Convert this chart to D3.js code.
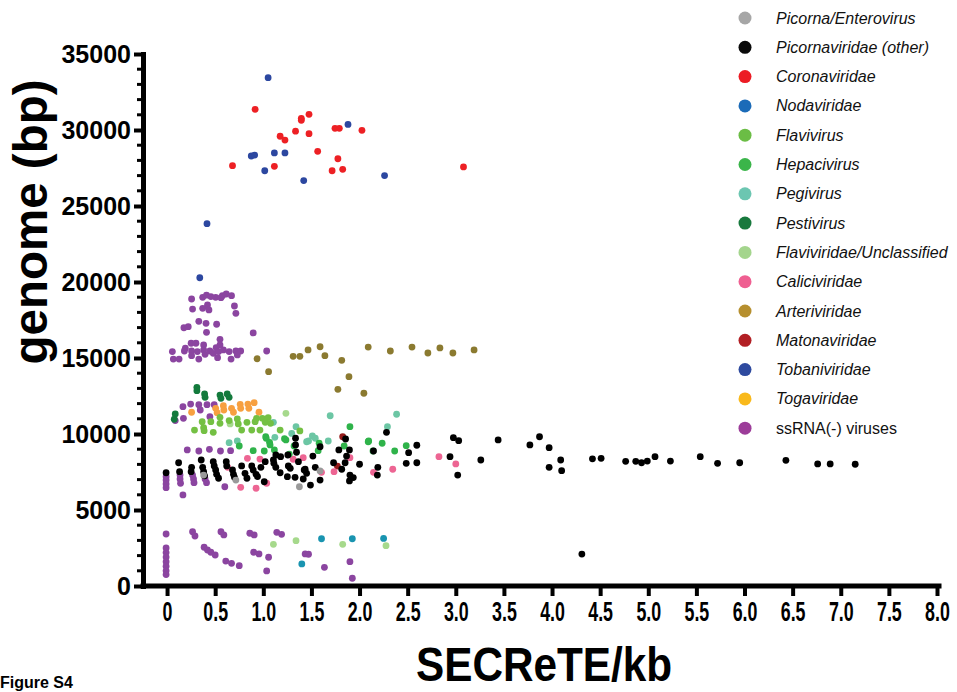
<!DOCTYPE html>
<html>
<head>
<meta charset="utf-8">
<script src="https://cdn.jsdelivr.net/npm/d3@7"></script>
<style>
  body { margin: 0; background: #fff; }
  svg { display: block; }
</style>
</head>
<body>
<div id="chart"></div>
<script>
// categories, in legend order
const categories = ["Picorna/Enterovirus", "Picornaviridae (other)", "Coronaviridae", "Nodaviridae",
  "Flavivirus", "Hepacivirus", "Pegivirus", "Pestivirus", "Flaviviridae/Unclassified", "Caliciviridae",
  "Arteriviridae", "Matonaviridae", "Tobaniviridae", "Togaviridae", "ssRNA(-) viruses"];
const legendColors = ["#a6a6a6", "#0a0a0a", "#ec1c24", "#1b6bb8", "#6bbd45", "#3bb54a", "#6cc6b1", "#18793d",
  "#a4d58d", "#ef5f91", "#b68f2e", "#b21f24", "#2e4a9f", "#f9b91b", "#9c3c99"];
const pointColors = ["#9a9a9a", "#000000", "#ed2024", "#1994b0", "#74c043", "#2fb34a", "#6cc6a4", "#137a3c",
  "#a6d98c", "#ed6593", "#8b7a30", "#961b1b", "#2c47a0", "#f7a040", "#8b45a0"];

const xTicks = [0, 0.5, 1, 1.5, 2, 2.5, 3, 3.5, 4, 4.5, 5, 5.5, 6, 6.5, 7, 7.5, 8];
const xTickLabels = ["0", "0.5", "1.0", "1.5", "2.0", "2.5", "3.0", "3.5", "4.0", "4.5", "5.0", "5.5", "6.0", "6.5", "7.0", "7.5", "8.0"];
const yTicks = [0, 5000, 10000, 15000, 20000, 25000, 30000, 35000];
const yTickLabels = ["0", "5000", "10000", "15000", "20000", "25000", "30000", "35000"];

// [SECReTE/kb, genome bp]
const picornaEntero = [[0.38,7300],[0.715,6970],[1.375,6530],[1.59,7570]];
const picornaOther = [[-0.01,7450],[0.12,8110],[0.13,7520],[0.255,7810],[0.25,7520],[0.355,8290],[0.37,7810],
  [0.38,7520],[0.39,7250],[0.48,8180],[0.49,7900],[0.505,7630],[0.515,7350],[0.535,7090],[0.615,8180],[0.62,7900],
  [0.68,7630],[0.69,7350],[0.70,7150],[0.775,7900],[0.81,7410],[0.83,7090],[0.88,7900],[0.895,7630],[0.925,7350],
  [0.94,7200],[1.02,8180],[0.975,7810],[1.01,6860],[1.105,8290],[1.13,7810],[1.18,8510],[1.175,7450],[1.25,7190],
  [1.26,7900],[1.335,9280],[1.345,8800],[1.365,8180],[1.425,7630],[1.415,7040],[1.335,9720],[1.28,7740],
  [1.435,7680],[1.45,7410],[1.33,7150],[1.59,9160],[1.515,8550],[1.54,7810],[1.59,6970],[1.49,6640],[1.785,8950],
  [1.895,8950],[1.865,8550],[1.73,8110],[1.85,8110],[1.815,7680],[2.0,8010],[1.90,7300],[1.935,7130],[1.895,6910],
  [1.855,9670],[2.28,10110],[2.145,8880],[2.19,7810],[2.185,7300],[2.595,9260],[2.51,8770],[2.485,8070],
  [2.595,8110],[2.975,9760],[3.03,9560],[2.94,8510],[3.02,7300],[3.26,8290],[3.44,9610],[3.77,9280],[3.87,9820],
  [3.97,9100],[4.09,8290],[3.97,7810],[4.10,7590],[4.42,8370],[4.51,8400],[4.765,8200],[4.87,8200],[4.93,8110],
  [4.99,8220],[5.07,8510],[5.23,8220],[5.54,8510],[5.72,8070],[5.95,8110],[6.43,8270],[6.76,8030],[6.89,8030],
  [7.15,8010],[4.31,2100],[1.13,8620],[1.255,8620],[1.11,8070]];
const coronaviridae = [[0.915,31360],[1.475,31030],[1.395,30770],[1.395,30640],[1.335,29920],[1.475,29760],
  [1.175,29590],[1.225,29340],[1.745,30110],[1.79,30110],[2.025,29980],[1.565,28600],[1.775,28110],[1.715,27320],
  [1.825,27410],[1.115,27610],[0.68,27650],[3.08,27570]];
const nodaviridae = [[1.605,3110],[1.925,3110],[2.25,3130],[1.40,1450]];
const flavivirus = [[0.285,10260],[0.38,10410],[0.385,10220],[0.48,10110],[0.365,10810],[0.455,10810],[0.55,10700],
  [0.55,11100],[0.645,10880],[0.73,10990],[0.74,10660],[0.775,10260],[0.83,10770],[0.88,10260],[0.915,10810],
  [0.93,11030],[0.99,11030],[1.02,10770],[0.965,10260],[1.05,11080],[1.075,10700],[1.175,10260],[1.38,10200]];
const hepacivirus = [[1.03,9720],[1.065,9450],[0.75,9210],[0.895,8900],[1.01,8880],[1.22,9690],[1.27,8680],
  [1.32,9210],[1.58,9390],[1.90,10480],[1.84,9210],[2.09,9490],[1.025,9820],[1.07,9280],[1.115,8950],[2.095,9540],
  [2.235,9390],[2.365,8880],[2.485,9230],[2.14,8880],[1.57,8900],[1.235,9610]];
const pegivirus = [[0.645,9430],[0.73,9540],[1.105,10770],[1.12,9780],[1.34,10480],[1.295,10040],[1.45,9490],
  [1.47,9540],[1.51,9870],[1.54,9720],[1.675,9540],[1.695,11200],[2.29,10480],[2.385,11300]];
const pestivirus = [[0.31,13070],[0.31,12850],[0.39,12630],[0.395,12410],[0.55,12560],[0.56,12350],[0.625,12630],
  [0.645,12410],[0.085,11320],[0.075,10970]];
const flaviUnclassified = [[1.235,11360],[0.655,10660],[1.105,2740],[1.34,2980],[1.825,2740],[2.275,2650]];
const caliciviridae = [[0.835,8400],[0.965,8350],[0.63,7810],[0.765,6490],[0.925,6430],[1.035,6760],[1.31,8340],
  [1.415,8440],[1.735,7520],[1.90,8440],[2.145,7480],[2.345,7680],[2.825,8510],[3.0,8030],[1.605,7480]];
const arteriviridae = [[0.935,14950],[1.055,14100],[1.31,15110],[1.38,15110],[1.465,15530],[1.59,15740],
  [1.64,15150],[1.815,14850],[1.89,13770],[1.775,12940],[2.045,12680],[2.09,15720],[2.32,15460],[2.545,15720],
  [2.71,15330],[2.835,15660],[2.97,15330],[3.19,15530]];
const matonaviridae = [[1.825,9820],[1.77,7890]];
const tobaniviridae = [[1.05,33440],[0.875,28290],[0.91,28350],[1.115,28490],[1.225,28490],[1.015,27320],
  [1.42,26670],[1.88,30370],[2.26,27000],[0.415,23840],[0.34,20280]];
const togaviridae = [[0.255,11430],[0.505,11690],[0.52,11400],[0.585,11860],[0.59,11580],[0.67,11690],[0.69,11430],
  [0.76,11950],[0.765,11690],[0.84,11970],[0.85,11690],[0.905,12060],[0.955,11430]];
const ssRNAneg = [[0.255,18880],[0.37,18990],[0.41,19130],[0.455,19040],[0.505,18990],[0.56,18970],[0.575,19100],
  [0.615,19210],[0.67,19100],[0.42,18490],[0.37,18270],[0.435,18160],[0.265,18220],[0.70,18420],[0.715,17940],
  [0.33,17410],[0.405,17280],[0.515,17220],[0.175,16990],[0.22,17060],[0.41,16690],[0.895,16650],
  [0.25,15970],[0.30,15970],[0.55,16230],[0.38,15860],[0.19,15640],[0.55,15860],[0.055,15420],[0.065,14930],
  [0.125,14930],[0.18,15460],[0.255,15460],[0.255,15150],[0.315,15420],[0.33,14930],[0.38,15530],[0.395,15240],
  [0.445,15460],[0.48,15310],[0.51,15680],[0.525,15020],[0.535,15420],[0.585,15530],[0.645,15420],[0.665,14930],
  [0.715,15460],[0.73,15200],[0.765,15460],[1.035,15460],
  [0.165,11800],[0.245,11970],[0.33,11930],[0.415,11930],[0.49,11930],[0.345,11580],[0.445,11140],[0.17,11030],
  [0.085,10880],[0.21,8950],[0.33,8880],[0.44,8990],[0.555,8880],[0.66,8900],
  [-0.01,7190],[-0.01,6970],[-0.01,6710],[-0.01,6470],[0.135,7300],[0.135,7040],[0.14,6760],[0.165,5990],
  [0.265,7300],[0.275,7040],[0.395,7040],[0.41,6800],[0.60,6530],[0.28,6800],
  [-0.01,3420],[-0.01,2500],[-0.01,2200],[-0.01,1900],[-0.01,1600],[-0.01,1300],[-0.01,1000],[-0.01,750],
  [0.265,3570],[0.29,3290],[0.385,2550],[0.42,2370],[0.455,2220],[0.50,2040],[0.56,3570],[0.59,3360],[0.61,1640],
  [0.67,1490],[0.75,1340],[0.86,3470],[0.905,3360],[0.90,2220],[0.955,2110],[1.055,1890],[1.035,990],[1.14,3530],
  [1.19,3400],[1.435,2110],[1.47,2090],[1.635,1230],[1.90,1600],[1.925,510]];

const seriesData = [picornaEntero, picornaOther, coronaviridae, nodaviridae, flavivirus, hepacivirus, pegivirus,
  pestivirus, flaviUnclassified, caliciviridae, arteriviridae, matonaviridae, tobaniviridae, togaviridae, ssRNAneg];

let width = 957, height = 692;

let svg = d3.select('#chart')
  .append('svg')
  .attr('width', width)
  .attr('height', height);

// Scales
let x = d3.scaleLinear().domain([-0.25, 8]).range([143, 937]);
let y = d3.scaleLinear().domain([0, 35000]).range([586, 54]);

// minor y ticks every 1000
let yMinor = d3.range(0, 35001, 1000).filter(function (d) { return d % 5000 !== 0; });
svg.append('g')
  .selectAll('line')
  .data(yMinor)
  .enter().append('line')
  .attr('x1', 143).attr('x2', 137)
  .attr('y1', function (d) { return y(d); })
  .attr('y2', function (d) { return y(d); })
  .attr('stroke', '#000')
  .attr('stroke-width', 3);

// Y axis
let yAxisCall = d3.axisLeft(y).tickValues(yTicks).tickSize(9).tickSizeOuter(0).tickPadding(3)
  .tickFormat(function (d, i) { return yTickLabels[i]; });
let yAxis = svg.append('g').attr('transform', 'translate(143,0)').call(yAxisCall);
yAxis.select('.domain').attr('stroke-width', 5).attr('stroke-linecap', 'square');
yAxis.selectAll('.tick line').attr('stroke-width', 4);
yAxis.selectAll('.tick text')
  .attr('font-family', 'Liberation Sans, Arial, sans-serif')
  .attr('font-weight', 'bold')
  .attr('font-size', '25px')
  .attr('fill', '#000');

// X axis
let xAxisCall = d3.axisBottom(x).tickValues(xTicks).tickSize(10).tickSizeOuter(0).tickPadding(6)
  .tickFormat(function (d, i) { return xTickLabels[i]; });
let xAxis = svg.append('g').attr('transform', 'translate(0,586)').call(xAxisCall);
xAxis.select('.domain').attr('stroke-width', 5).attr('stroke-linecap', 'square')
  .attr('d', 'M143,0H939');
xAxis.selectAll('.tick line').attr('stroke-width', 4);
// condensed bold labels
xAxis.selectAll('.tick text')
  .attr('font-family', 'Liberation Sans, Arial, sans-serif')
  .attr('font-weight', 'bold')
  .attr('font-size', '27px')
  .attr('transform', 'scale(0.66,1)')
  .attr('fill', '#000');

// Points
let drawOrder = d3.range(categories.length).reverse();
drawOrder.forEach(function (ci) {
  svg.append('g')
    .selectAll('circle')
    .data(seriesData[ci])
    .enter().append('circle')
    .attr('cx', function (d) { return x(d[0]); })
    .attr('cy', function (d) { return y(d[1]); })
    .attr('r', 3.4)
    .attr('fill', pointColors[ci]);
});

// Legend
let legend = svg.append('g');
categories.forEach(function (c, i) {
  let cy = 18 + i * 29.3;
  legend.append('circle')
    .attr('cx', 745).attr('cy', cy).attr('r', 6.5)
    .attr('fill', legendColors[i]);
  legend.append('text')
    .attr('x', 776).attr('y', cy + 5.5)
    .attr('font-family', 'Liberation Sans, Arial, sans-serif')
    .attr('font-size', '16px')
    .attr('font-style', c === 'ssRNA(-) viruses' ? 'normal' : 'italic')
    .attr('fill', '#111')
    .text(c);
});

// Axis titles
svg.append('text')
  .attr('transform', 'translate(47,222) rotate(-90)')
  .attr('text-anchor', 'middle')
  .attr('font-family', 'Liberation Sans, Arial, sans-serif')
  .attr('font-weight', 'bold')
  .attr('font-size', '48px')
  .attr('textLength', 285)
  .attr('lengthAdjust', 'spacingAndGlyphs')
  .text('genome (bp)');

svg.append('text')
  .attr('x', 544).attr('y', 681)
  .attr('text-anchor', 'middle')
  .attr('font-family', 'Liberation Sans, Arial, sans-serif')
  .attr('font-weight', 'bold')
  .attr('font-size', '48px')
  .attr('textLength', 256)
  .attr('lengthAdjust', 'spacingAndGlyphs')
  .text('SECReTE/kb');

svg.append('text')
  .attr('x', 0).attr('y', 688)
  .attr('font-family', 'Liberation Sans, Arial, sans-serif')
  .attr('font-weight', 'bold')
  .attr('font-size', '16px')
  .text('Figure S4');
</script>
</body>
</html>
